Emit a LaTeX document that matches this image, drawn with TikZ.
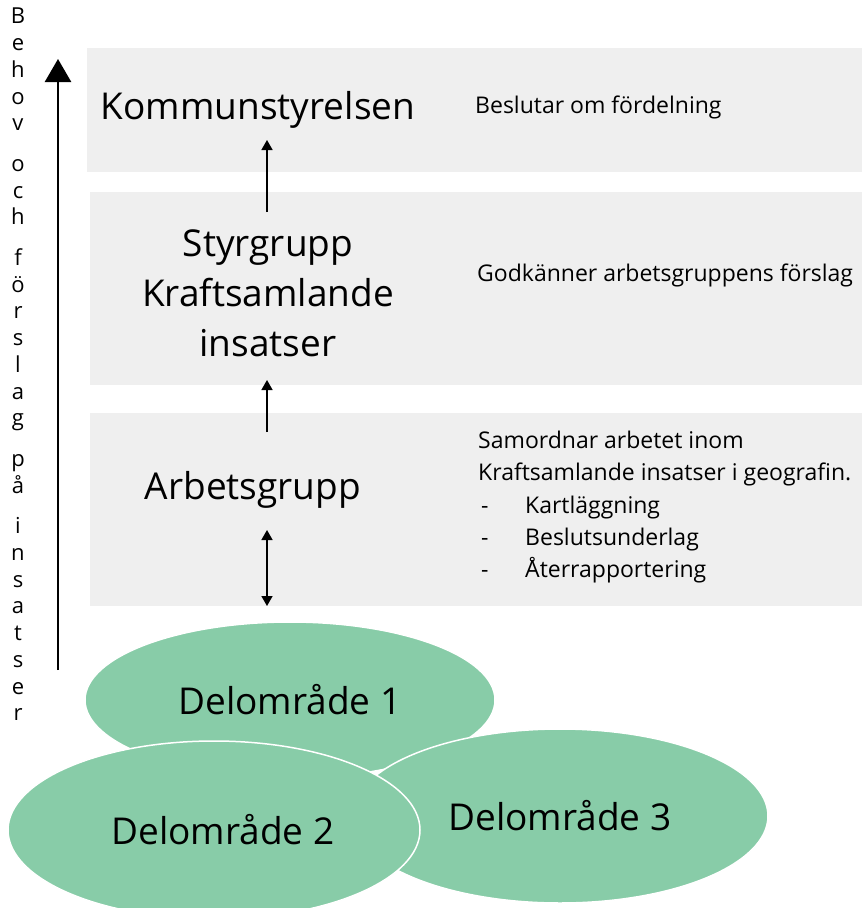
\documentclass[tikz,border=0pt]{standalone}
\usepackage{fontspec}
\setmainfont{Open Sans}
\usetikzlibrary{arrows.meta, shapes.geometric}

\definecolor{bandgray}{HTML}{EFEFEF}
\definecolor{areagreen}{HTML}{88CCA8}

\begin{document}
\begin{tikzpicture}[
  x=1pt, y=-1pt,
  band/.style={rectangle, fill=bandgray, draw=none, inner sep=0pt, anchor=north west},
  title/.style={align=center, font=\fontsize{37}{50}\selectfont},
  note/.style={align=left, anchor=west, inner sep=0pt, font=\fontsize{23}{32.3}\selectfont},
  area/.style={ellipse, fill=areagreen, draw=white, line width=1.5pt, inner sep=0pt, font=\fontsize{37}{40}\selectfont},
  link/.style={line width=1.6pt, -{Triangle[length=10pt, width=11pt]}},
  bothlink/.style={line width=1.6pt, {Triangle[length=10pt, width=11pt]}-{Triangle[length=10pt, width=11pt]}},
  axis/.style={line width=2.6pt, -{Triangle[length=23pt, width=26pt]}}
  ]

  \useasboundingbox (0,0) rectangle (862,908);

  % Grey bands for the three levels
  \node[band, minimum width=775pt, minimum height=124pt] (band1) at (87,48) {};
  \node[band, minimum width=772pt, minimum height=193pt] (band2) at (90,192) {};
  \node[band, minimum width=772pt, minimum height=193pt] (band3) at (90,413) {};

  % Level titles
  \node[title] (kommun) at (258,110) {Kommunstyrelsen};
  \node[title] (styr) at (268,293) {Styrgrupp\\Kraftsamlande\\insatser};
  \node[title] (arbets) at (253,490) {Arbetsgrupp};

  % Descriptions
  \node[note] (beslut) at (475,107) {Beslutar om fördelning};
  \node[note] (godk) at (477,275) {Godkänner arbetsgruppens förslag};
  \node[note, anchor=north west] (samord) at (478,431) {Samordnar arbetet inom\\
    Kraftsamlande insatser i geografin.\\
    \makebox[47pt][l]{\hspace{3pt}-}Kartläggning\\
    \makebox[47pt][l]{\hspace{3pt}-}Beslutsunderlag\\
    \makebox[47pt][l]{\hspace{3pt}-}Återrapportering};

  % Sub-areas
  \node[area, minimum width=410pt, minimum height=156pt] (omr1) at (290,700) {Delområde 1};
  \node[area, minimum width=416pt, minimum height=174pt] (omr3) at (560,816) {Delområde 3\hspace{12pt}};
  \node[area, minimum width=412pt, minimum height=178pt] (omr2) at (214,830) {\hspace{18pt}Delområde 2};

  % Arrows between the levels
  \coordinate (styrtop) at (267,212);
  \coordinate (kommunbot) at (267,140);
  \coordinate (arbetstop) at (267,432);
  \coordinate (styrbot) at (267,380);
  \coordinate (arbetsbot) at (267,530);
  \coordinate (omrtop) at (267,606);
  \draw[link] (styrtop) -- (kommunbot);
  \draw[link] (arbetstop) -- (styrbot);
  \draw[bothlink] (arbetsbot) -- (omrtop);

  % Side axis
  \node[anchor=north, align=center, inner sep=0pt, font=\fontsize{22}{26.7}\selectfont] (axislabel) at (18,8)
    {B\\e\\h\\o\\v\\[14pt]o\\c\\h\\[14pt]f\\ö\\r\\s\\l\\a\\g\\[14pt]p\\å\\[14pt]i\\n\\s\\a\\t\\s\\e\\r};
  \coordinate (axisfoot) at (58,670);
  \coordinate (axishead) at (58,59);
  \draw[axis] (axisfoot) -- (axishead);

\end{tikzpicture}
\end{document}
